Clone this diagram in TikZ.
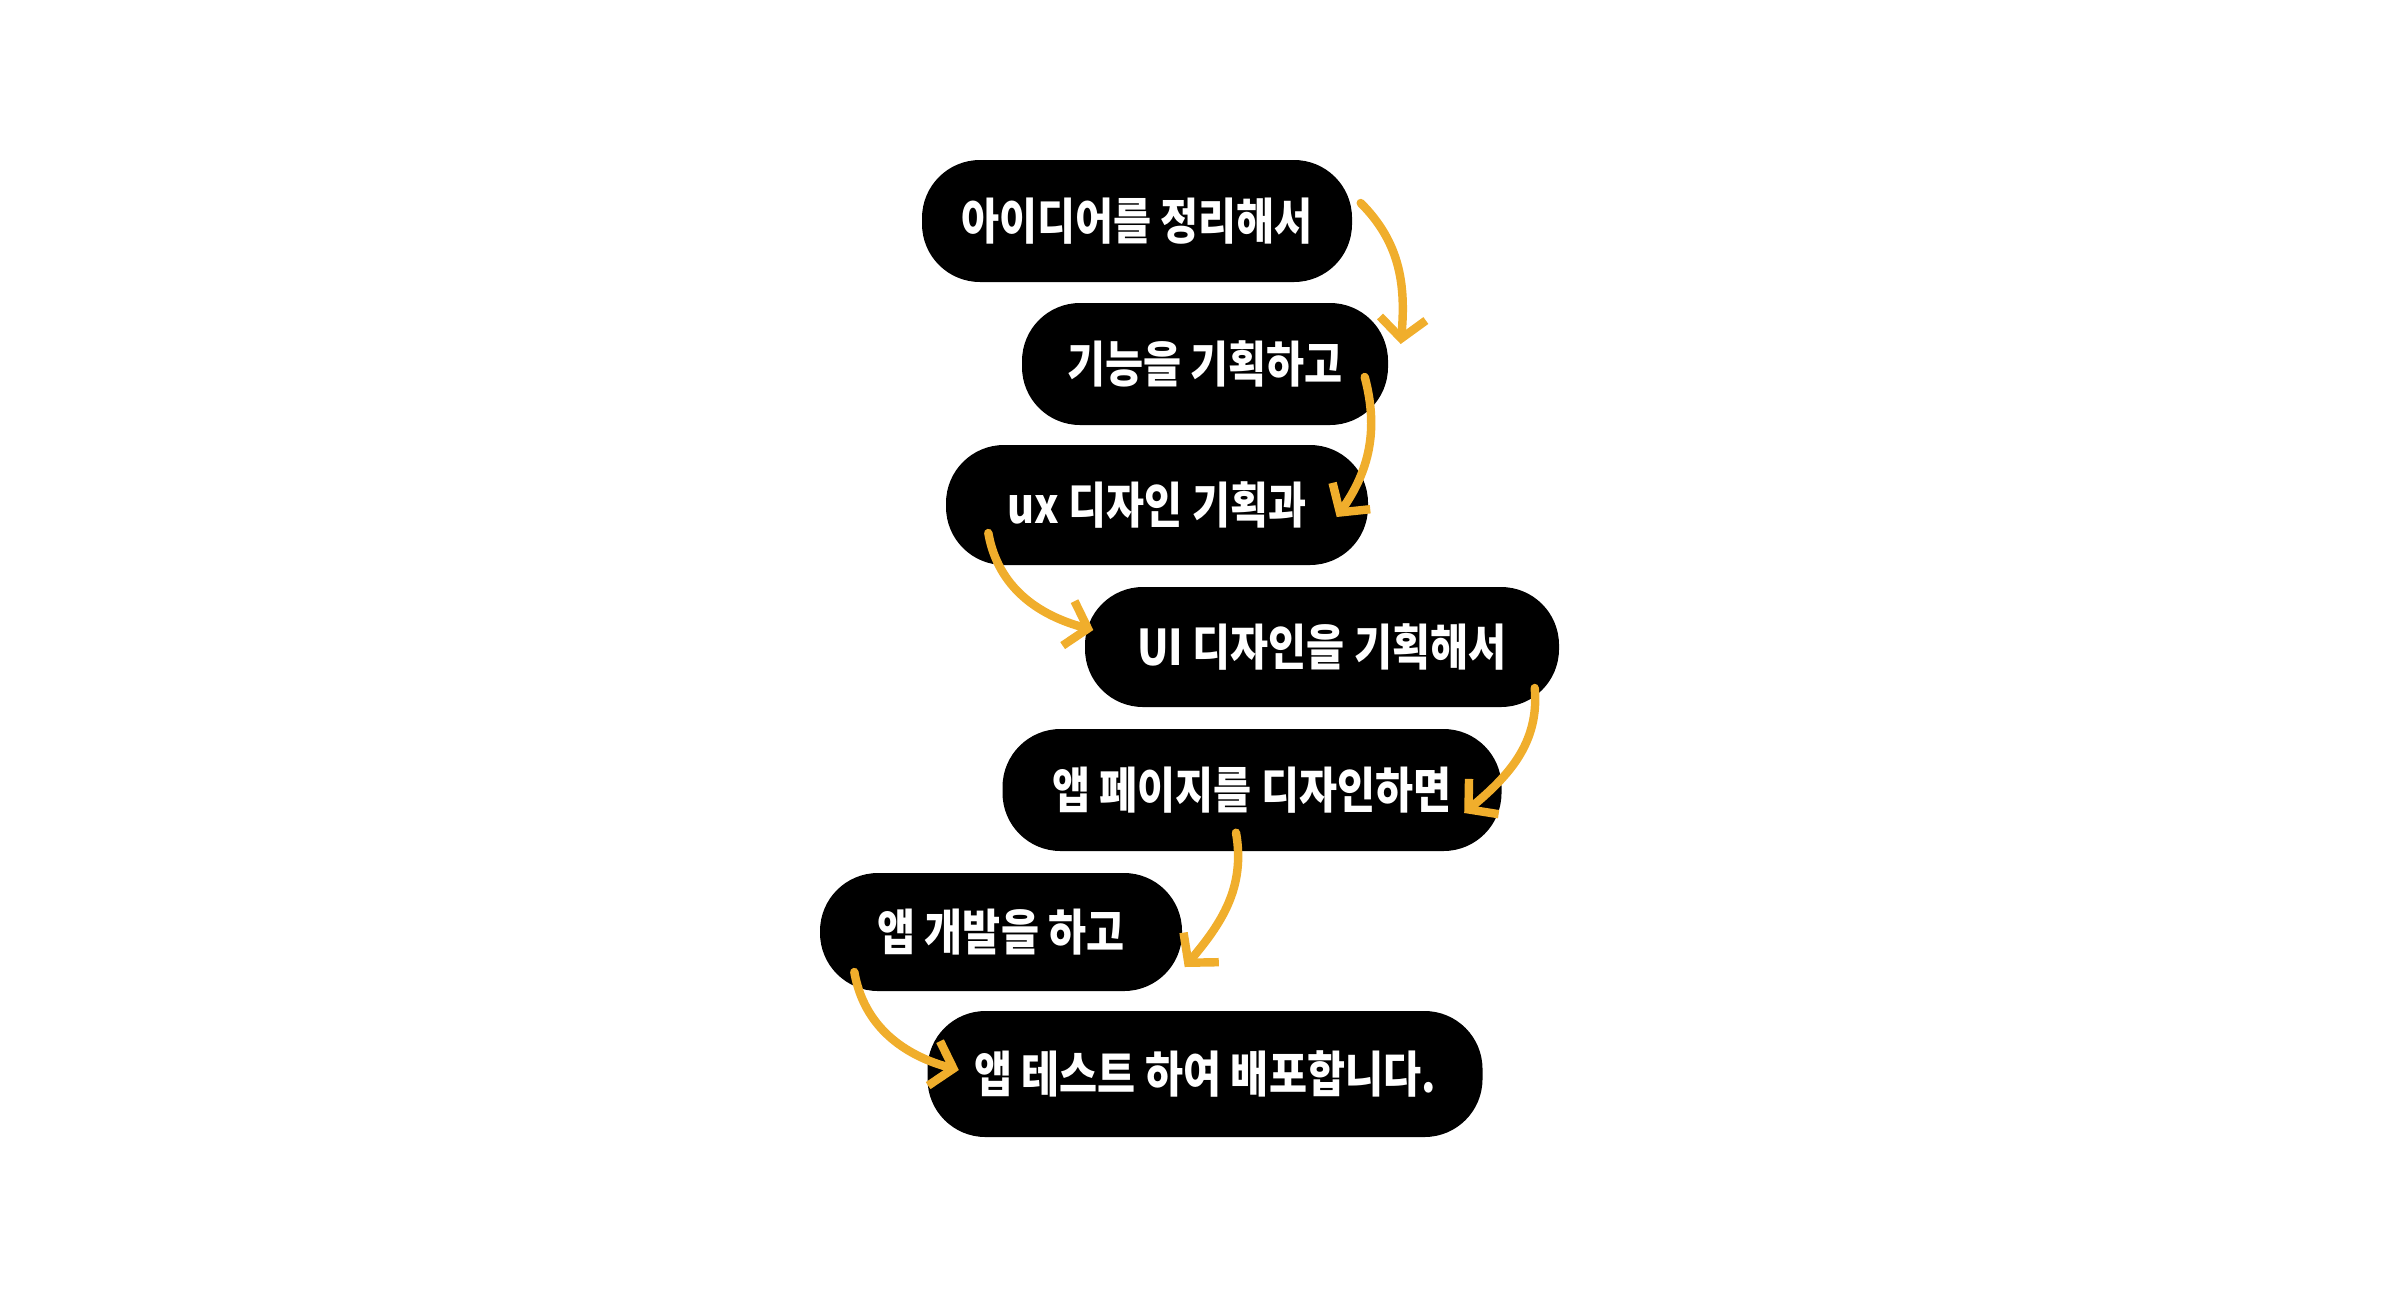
\documentclass[tikz,border=0pt]{standalone}
\usepackage{graphicx}
\usepackage{fontspec}
\newfontfamily\kr{Noto Sans CJK KR}
\usetikzlibrary{arrows.meta,calc}
\definecolor{flowyellow}{HTML}{F0AE2C}
\newcommand{\narrowtext}[1]{\scalebox{0.84}[1]{#1}}

\begin{document}
\begin{tikzpicture}[
    pill/.style={fill=black, text=white, rounded corners=0.58cm, minimum height=1.22cm,
                 inner sep=0pt, font=\kr\bfseries\fontsize{14}{14}\selectfont},
    flow/.style={draw=flowyellow, line width=2.4pt, line cap=round,
                 -{Straight Barb[length=2mm,width=4.6mm]}}
  ]
  \useasboundingbox (0,0) rectangle (24,-12.96);

  \node[pill, minimum width=4.30cm] (idea) at (11.37,-2.21) {\narrowtext{아이디어를 정리해서}};
  \node[pill, minimum width=3.66cm] (func) at (12.05,-3.64) {\narrowtext{기능을 기획하고}};
  \node[pill, minimum width=4.22cm, minimum height=1.20cm] (ux) at (11.57,-5.05) {\narrowtext{ux 디자인 기획과}};
  \node[pill, minimum width=4.74cm, minimum height=1.20cm] (ui) at (13.22,-6.47) {\narrowtext{UI 디자인을 기획해서}};
  \node[pill, minimum width=4.99cm] (page) at (12.52,-7.90) {\narrowtext{앱 페이지를 디자인하면}};
  \node[pill, minimum width=3.62cm, minimum height=1.18cm] (dev) at (10.01,-9.32) {\narrowtext{앱 개발을 하고}};
  \node[pill, minimum width=5.55cm, minimum height=1.26cm] (test) at (12.05,-10.74) {\narrowtext{앱 테스트 하여 배포합니다.}};

  \draw[flow] ($(idea.east)+(0.08,0.18)$) to[out=-45, in=85] ($(func.east)+(0.12,0.20)$);
  \draw[flow] ($(func.east)+(-0.24,-0.13)$) to[out=-75, in=55] ($(ux.east)+(-0.32,-0.12)$);
  \draw[flow] ($(ux.west)+(0.43,-0.28)$) to[out=-80, in=165] ($(ui.west)+(0.09,0.17)$);
  \draw[flow] ($(ui.east)+(-0.25,-0.41)$) to[out=-85, in=40] ($(page.east)+(-0.38,-0.23)$);
  \draw[flow] ($(page.south)+(-0.16,0.19)$) to[out=-80, in=50] ($(dev.east)+(0.02,-0.35)$);
  \draw[flow] ($(dev.west)+(0.35,-0.40)$) to[out=-80, in=165] ($(test.west)+(0.32,0.04)$);
\end{tikzpicture}
\end{document}
